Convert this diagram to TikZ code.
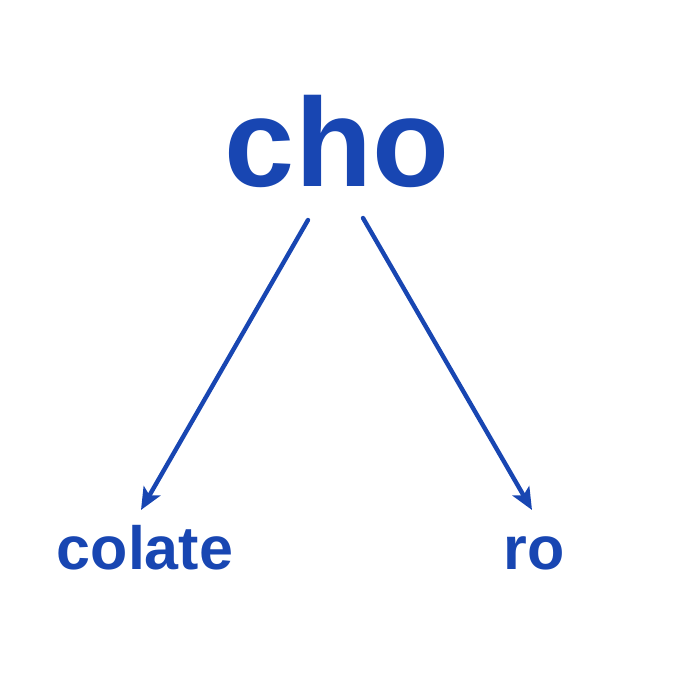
\documentclass[tikz,border=0pt]{standalone}
\usepackage{fontspec}
\setmainfont{Liberation Sans}
\usetikzlibrary{arrows.meta}
\definecolor{wordblue}{RGB}{24,70,178}
\tikzset{
  word/.style={anchor=base, text=wordblue, inner sep=0pt, font=\bfseries},
  arr/.style={draw=wordblue, line width=4.4pt, line cap=round, -{Stealth[length=22pt,width=19pt,inset=5pt]}}
}
\begin{document}
\begin{tikzpicture}[x=1pt,y=1pt]
\useasboundingbox (0,0) rectangle (680,680);
\node[word, font=\bfseries\fontsize{126}{130}\selectfont] (cho) at (337,493) {cho};
\node[word, font=\bfseries\fontsize{61}{64}\selectfont] (colate) at (145,110) {colate};
\node[word, font=\bfseries\fontsize{61}{64}\selectfont] (ro) at (534,110) {ro};
\draw[arr] ([shift={(-29,-33)}]cho.base) -- ([shift={(-4,60)}]colate.base);
\draw[arr] ([shift={(26,-31)}]cho.base) -- ([shift={(-2,60)}]ro.base);
\end{tikzpicture}
\end{document}
